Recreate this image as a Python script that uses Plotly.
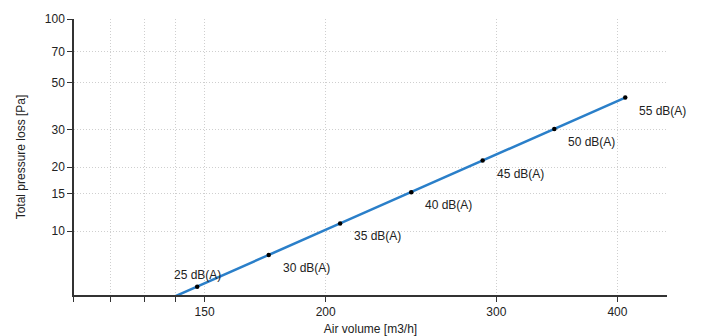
import math
import plotly.graph_objects as go

# Operating points: air volume [m3/h] vs. total pressure loss [Pa]
flow = [147.4, 174.7, 207.0, 245.1, 290.4, 344.3, 407.5]
pressure = [5.47, 7.72, 10.87, 15.25, 21.5, 30.3, 42.6]
sound_labels = ["25 dB(A)", "30 dB(A)", "35 dB(A)", "40 dB(A)",
                "45 dB(A)", "50 dB(A)", "55 dB(A)"]

# Characteristic curve (continues below the visible pressure range)
curve_flow = [135.0] + flow
curve_pressure = [4.59] + pressure

x_tickvals = [110, 120, 130, 140, 150, 200, 300, 400]
x_ticktext = ["", "", "", "", "150", "200", "300", "400"]
y_tickvals = [10, 15, 20, 30, 50, 70, 100]
y_ticktext = ["10", "15", "20", "30", "50", "70", "100"]

FONT = "Liberation Sans, Arial, sans-serif"
TEXT = "#222"

fig = go.Figure()
fig.add_trace(go.Scatter(
    x=curve_flow, y=curve_pressure, mode="lines",
    line=dict(color="#2a7fc9", width=2.5),
    hoverinfo="skip", showlegend=False,
))
fig.add_trace(go.Scatter(
    x=flow, y=pressure, mode="markers",
    marker=dict(color="black", size=4.5),
    showlegend=False,
))

# Sound level labels next to each operating point (log axes take log10 positions)
for i, (fx, py, lab) in enumerate(zip(flow, pressure, sound_labels)):
    common = dict(x=math.log10(fx), y=math.log10(py), text=lab, showarrow=False,
                  xref="x", yref="y", font=dict(family=FONT, size=12, color=TEXT))
    if i == 0:
        fig.add_annotation(xanchor="center", yanchor="middle", yshift=12, **common)
    else:
        fig.add_annotation(xanchor="left", yanchor="middle", xshift=12, yshift=-13, **common)

axis_common = dict(
    showline=True, linecolor="#333", linewidth=1.5,
    showgrid=True, gridcolor="#cfcfcf", griddash="1px,2px", gridwidth=1,
    ticks="outside", ticklen=5, tickcolor="#333", tickwidth=1,
    zeroline=False, mirror=False, automargin=False,
    tickfont=dict(family=FONT, size=12, color=TEXT),
)

fig.update_xaxes(
    type="log", range=[2.0414, 2.6532],
    tickvals=x_tickvals, ticktext=x_ticktext,
    title=dict(text="Air volume [m3/h]", font=dict(family=FONT, size=12, color=TEXT), standoff=6),
    **axis_common,
)
fig.update_yaxes(
    type="log", range=[0.69897, 2.0],
    tickvals=y_tickvals, ticktext=y_ticktext,
    title=dict(text="Total pressure loss [Pa]", font=dict(family=FONT, size=12, color=TEXT), standoff=17),
    **axis_common,
)

fig.update_layout(
    width=703, height=336,
    margin=dict(l=74, r=36, t=19, b=41),
    plot_bgcolor="white", paper_bgcolor="white",
    font=dict(family=FONT, size=12, color=TEXT),
)

fig.write_html("out.html")
